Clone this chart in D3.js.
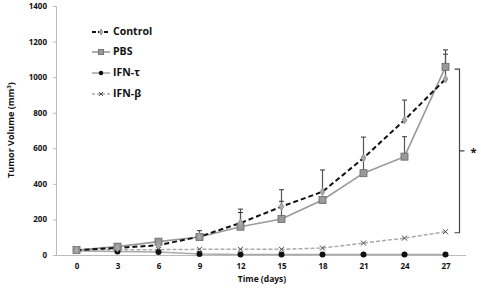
<!DOCTYPE html>
<html><head><meta charset="utf-8">
<script src="https://cdn.jsdelivr.net/npm/d3@7"></script>
<style>body{margin:0;background:#fff}svg{display:block}text{font-family:"Open Sans",Arial,sans-serif;font-weight:bold}</style>
</head><body><svg id="c" width="481" height="291"></svg>
<script>
const days = [0,3,6,9,12,15,18,21,24,27];
const yTicks = [0,200,400,600,800,1000,1200,1400];
const control = [27,40,55,103,180,272,356,545,759,989];
const controlErr = [0,0,0,0,78,95,122,118,112,140];
const pbs = [28,47,75,101,159,202,309,460,553,1058];
const pbsErr = [0,0,0,36,80,100,0,90,112,95];
const ifnTau = [22,20,17,5,3,3,3,3,3,3];
const ifnBeta = [30,30,30,32,32,32,39,67,95,131];
const seriesNames = ["Control","PBS","IFN-\u03c4","IFN-\u03b2"];
const bracketRange = [1045,125];

const svg = d3.select("#c");
const x = d3.scalePoint().domain(days).range([56,466]).padding(0.5);
const y = d3.scaleLinear().domain([0,1400]).range([255,6]);

// axes
const ya = svg.append("g").attr("transform","translate(56,0)")
  .call(d3.axisLeft(y).tickValues(yTicks).tickFormat(d3.format("d")).tickSize(3).tickPadding(6));
ya.select(".domain").attr("stroke","#bbb");
ya.selectAll(".tick line").attr("stroke","#bbb");
ya.selectAll(".tick text").attr("font-size",8).attr("fill","#111").attr("font-weight","bold");

const xa = svg.append("g").attr("transform","translate(0,255)")
  .call(d3.axisBottom(x).tickSize(0).tickPadding(8));
xa.select(".domain").attr("stroke","#bbb").attr("d","M56,0.5H466");
xa.selectAll(".tick text").attr("font-size",8).attr("fill","#111").attr("font-weight","bold");

svg.append("text").attr("transform","translate(12,130) rotate(-90)").attr("text-anchor","middle")
  .attr("font-size",9).attr("fill","#111").attr("dominant-baseline","middle")
  .html('Tumor Volume (mm<tspan dy="-3" font-size="6">3</tspan><tspan dy="3">)</tspan>');
svg.append("text").attr("x",262).attr("y",282).attr("text-anchor","middle")
  .attr("font-size",8.5).attr("fill","#111").text("Time (days)");

const line = d3.line().x((d,i)=>x(days[i])).y(d=>y(d));

// error bars
function errBars(vals, errs){
  const g = svg.append("g");
  vals.forEach((v,i)=>{
    if(!errs[i]) return;
    const cx = x(days[i]);
    g.append("line").attr("x1",cx).attr("x2",cx).attr("y1",y(v)).attr("y2",y(v+errs[i])).attr("stroke","#555").attr("stroke-width",1.2);
    g.append("line").attr("x1",cx-2.5).attr("x2",cx+2.5).attr("y1",y(v+errs[i])).attr("y2",y(v+errs[i])).attr("stroke","#333").attr("stroke-width",1);
  });
}
errBars(control, controlErr);
errBars(pbs, pbsErr);

// lines
svg.append("path").datum(ifnTau).attr("d",line).attr("fill","none").attr("stroke","#aaa").attr("stroke-width",1.5);
svg.append("path").datum(ifnBeta).attr("d",line).attr("fill","none").attr("stroke","#aaa").attr("stroke-width",1.5).attr("stroke-dasharray","4,2");
svg.append("path").datum(pbs).attr("d",line).attr("fill","none").attr("stroke","#999").attr("stroke-width",1.6);
svg.append("path").datum(control).attr("d",line).attr("fill","none").attr("stroke","#111").attr("stroke-width",2).attr("stroke-dasharray","5,3");

// markers
function markers(vals, type){
  const g = svg.append("g");
  vals.forEach((v,i)=>drawMarker(g, type, x(days[i]), y(v), 1));
}
function drawMarker(g,type,cx,cy,s){
  if(type==="diamond"){
    g.append("path").attr("d",d3.symbol(d3.symbolDiamond,18*s*s)()).attr("transform",`translate(${cx},${cy})`).attr("fill","#aaa").attr("stroke","#999");
  } else if(type==="square"){
    const h=3.5*s;
    g.append("rect").attr("x",cx-h).attr("y",cy-h).attr("width",2*h).attr("height",2*h).attr("fill","#999").attr("stroke","#666").attr("stroke-width",0.8);
  } else if(type==="circle"){
    g.append("circle").attr("cx",cx).attr("cy",cy).attr("r",3*s).attr("fill","#111");
  } else if(type==="x"){
    const h=2.5*s;
    g.append("path").attr("d",`M${cx-h},${cy-h}L${cx+h},${cy+h}M${cx-h},${cy+h}L${cx+h},${cy-h}`).attr("stroke","#444").attr("stroke-width",1);
  }
}
markers(ifnBeta,"x");
markers(ifnTau,"circle");
markers(pbs,"square");
markers(control,"diamond");

// bracket
const bx = x(27)+14;
const by1 = y(bracketRange[0]), by2 = y(bracketRange[1]);
svg.append("path").attr("d",`M${bx-5},${by1}H${bx}V${by2}H${bx-5}M${bx},${(by1+by2)/2}H${bx+5}`)
  .attr("fill","none").attr("stroke","#444").attr("stroke-width",1.2);
svg.append("text").attr("x",bx+14).attr("y",(by1+by2)/2+5).attr("text-anchor","middle").attr("font-size",11).attr("fill","#111").text("*");

// legend
const types = ["diamond","square","circle","x"];
const lgY = [32,52,73,94];
const lg = svg.append("g");
seriesNames.forEach((n,i)=>{
  const yy = lgY[i];
  const ln = lg.append("line").attr("x1",92).attr("x2",110).attr("y1",yy).attr("y2",yy).attr("stroke-width",1.6);
  if(i===0) ln.attr("stroke","#111").attr("stroke-dasharray","4,2").attr("stroke-width",2);
  if(i===1) ln.attr("stroke","#999");
  if(i===2) ln.attr("stroke","#aaa");
  if(i===3) ln.attr("stroke","#aaa").attr("stroke-dasharray","3,2");
  drawMarker(lg, types[i], 101, yy, 0.75);
  lg.append("text").attr("x",113).attr("y",yy).attr("dominant-baseline","middle").attr("font-size",10.5).attr("fill","#111").text(n);
});
</script></body></html>
